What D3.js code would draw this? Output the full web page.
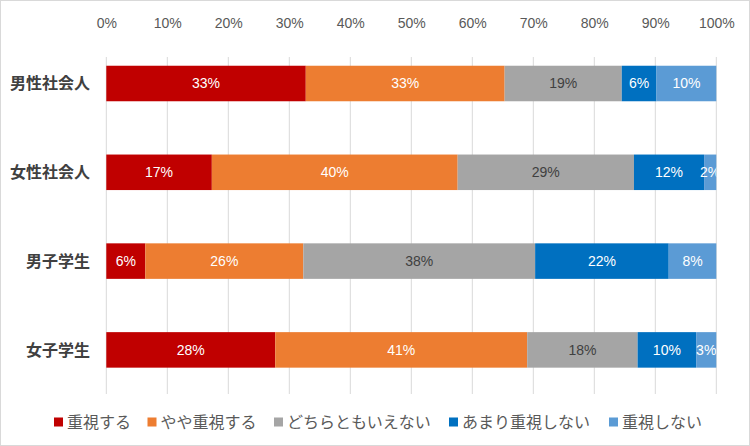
<!DOCTYPE html>
<html>
<head>
<meta charset="utf-8">
<script src="https://cdn.jsdelivr.net/npm/d3@7"></script>
<style>
body { margin: 0; background: #fff; }
text { font-family: "Liberation Sans", "Noto Sans CJK JP", sans-serif; }
</style>
</head>
<body>
<svg id="chart"></svg>
<script>
// data
var categories = ["男性社会人", "女性社会人", "男子学生", "女子学生"];
var seriesNames = ["重視する", "やや重視する", "どちらともいえない", "あまり重視しない", "重視しない"];
var colors = ["#C00000", "#ED7D31", "#A5A5A5", "#0070C0", "#5B9BD5"];
var labelColors = ["#fff", "#fff", "#404040", "#fff", "#fff"];
var values = [
  [32.7, 32.6, 19.2, 5.7, 9.8],
  [17.3, 40.3, 28.9, 11.5, 2.0],
  [6.4, 25.9, 38.0, 21.9, 7.8],
  [27.7, 41.3, 18.1, 9.6, 3.3]
];
var ticks = [0, 0.1, 0.2, 0.3, 0.4, 0.5, 0.6, 0.7, 0.8, 0.9, 1];

var W = 750, H = 446;
var svg = d3.select("#chart").attr("width", W).attr("height", H);

svg.append("rect")
  .attr("x", 0.5).attr("y", 0.5)
  .attr("width", W - 1).attr("height", H - 1)
  .attr("fill", "#fff").attr("stroke", "#d9d9d9");

var x = d3.scaleLinear().domain([0, 1]).range([106.3, 716.3]);
var y = d3.scaleBand().domain(categories).range([39.1, 394.3])
  .paddingInner(0.6).paddingOuter(0.3);

// gridlines
svg.append("g").selectAll("line")
  .data(ticks)
  .enter().append("line")
    .attr("x1", function(d) { return x(d); })
    .attr("x2", function(d) { return x(d); })
    .attr("y1", 57)
    .attr("y2", 394)
    .attr("stroke", "#d9d9d9")
    .attr("stroke-width", 1);

// top axis labels
var axis = d3.axisTop(x).tickValues(ticks).tickFormat(d3.format(".0%")).tickSize(0);
var ax = svg.append("g").attr("transform", "translate(0,31)").call(axis);
ax.select(".domain").remove();
ax.selectAll("text").attr("fill", "#595959").attr("font-size", 14);

// stacked rows
var rows = values.map(function(v, i) {
  var acc = 0;
  return v.map(function(val, j) {
    var s = { cat: categories[i], j: j, v: val / 100, x0: acc };
    acc += val / 100;
    s.x1 = acc;
    return s;
  });
});
var segs = [].concat.apply([], rows);

svg.append("clipPath").attr("id", "plotclip")
  .append("rect").attr("x", 100).attr("y", 40).attr("width", 616.3).attr("height", 360);

svg.append("g").selectAll("rect")
  .data(segs)
  .enter().append("rect")
    .attr("x", function(d) { return x(d.x0); })
    .attr("y", function(d) { return y(d.cat); })
    .attr("width", function(d) { return x(d.x1) - x(d.x0); })
    .attr("height", y.bandwidth())
    .attr("fill", function(d) { return colors[d.j]; });

svg.append("g").attr("clip-path", "url(#plotclip)").selectAll("text")
  .data(segs)
  .enter().append("text")
    .attr("x", function(d) { return (x(d.x0) + x(d.x1)) / 2; })
    .attr("y", function(d) { return y(d.cat) + y.bandwidth() / 2; })
    .attr("dy", "0.35em")
    .attr("text-anchor", "middle")
    .attr("font-size", 14)
    .attr("fill", function(d) { return labelColors[d.j]; })
    .text(function(d) { return d3.format(".0%")(d.v); });

// category labels
svg.append("g").selectAll("text")
  .data(categories)
  .enter().append("text")
    .attr("x", 90)
    .attr("y", function(d) { return y(d) + y.bandwidth() / 2; })
    .attr("dy", "0.35em")
    .attr("text-anchor", "end")
    .attr("font-size", 16)
    .attr("font-weight", "bold")
    .attr("fill", "#404040")
    .text(function(d) { return d; });

// legend
var legendX = [54, 147.5, 274, 449, 609];
var lg = svg.append("g").selectAll("g")
  .data(seriesNames)
  .enter().append("g")
    .attr("transform", function(d, i) { return "translate(" + legendX[i] + ",422)"; });
lg.append("rect")
  .attr("x", 0).attr("y", -4.5)
  .attr("width", 9).attr("height", 9)
  .attr("fill", function(d, i) { return colors[i]; });
lg.append("text")
  .attr("x", 13)
  .attr("dy", "0.35em")
  .attr("font-size", 16)
  .attr("fill", "#595959")
  .text(function(d) { return d; });
</script>
</body>
</html>
